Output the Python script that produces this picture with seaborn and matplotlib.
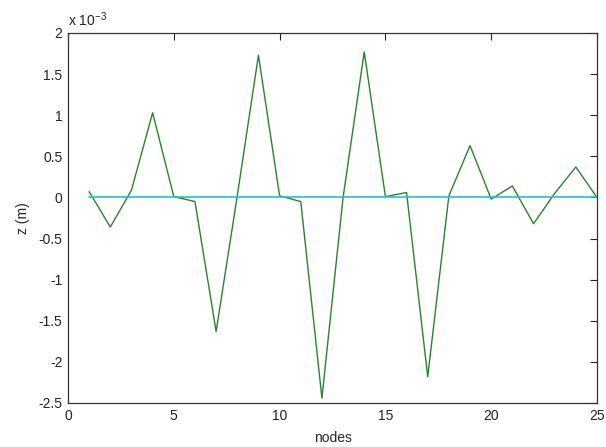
import numpy as np
import pandas as pd
import matplotlib
matplotlib.use("Agg")
import matplotlib.pyplot as plt
import seaborn as sns
from matplotlib.ticker import FuncFormatter, FixedLocator

# vertical displacement per node, in units of 1e-3 m
nodes = list(range(1, 26))
z_e3 = [0.07, -0.36, 0.09, 1.03, 0.01, -0.05, -1.63, 0.02, 1.73, 0.02,
        -0.05, -2.44, 0.00, 1.77, 0.01, 0.06, -2.18, 0.02, 0.63, -0.02,
        0.14, -0.32, 0.05, 0.37, 0.00]
baseline = [0.0] * len(nodes)

x_ticks = [0, 5, 10, 15, 20, 25]
y_ticks = [-2.5, -2, -1.5, -1, -0.5, 0, 0.5, 1, 1.5, 2]

df = pd.DataFrame({"node": nodes, "z": z_e3, "ref": baseline})

sns.set_style("white")
plt.rcParams["font.family"] = ["Liberation Sans", "DejaVu Sans"]
plt.rcParams["axes.unicode_minus"] = False
plt.rcParams["mathtext.fontset"] = "custom"
plt.rcParams["mathtext.rm"] = "Liberation Sans"

fig = plt.figure(figsize=(6.06, 4.47), dpi=100)
ax = fig.add_axes([68 / 606, 1 - 403 / 447, 529 / 606, 370 / 447])

sns.lineplot(data=df, x="node", y="z", ax=ax, color="#2a822a", linewidth=1.0)
sns.lineplot(data=df, x="node", y="ref", ax=ax, color="#22c4c4", linewidth=1.2)

ax.set_xlim(0, 25)
ax.set_ylim(-2.5, 2)
ax.xaxis.set_major_locator(FixedLocator(x_ticks))
ax.yaxis.set_major_locator(FixedLocator(y_ticks))
ax.yaxis.set_major_formatter(FuncFormatter(lambda v, p: f"{v:g}"))
ax.xaxis.set_major_formatter(FuncFormatter(lambda v, p: f"{v:g}"))

ax.tick_params(direction="in", length=5, width=0.8, top=True, right=True,
               labelsize=10, colors="#222222", pad=4)
for s in ax.spines.values():
    s.set_visible(True)
    s.set_color("#333333")
    s.set_linewidth(0.9)

ax.set_xlabel("nodes", fontsize=10, labelpad=6)
ax.set_ylabel("z (m)", fontsize=10, labelpad=6)
ax.text(0.0, 1.012, "x 10$^{\\mathrm{-3}}$", transform=ax.transAxes, fontsize=10,
        ha="left", va="bottom", color="#222222")

fig.savefig("out.png", dpi=100, facecolor="white")
